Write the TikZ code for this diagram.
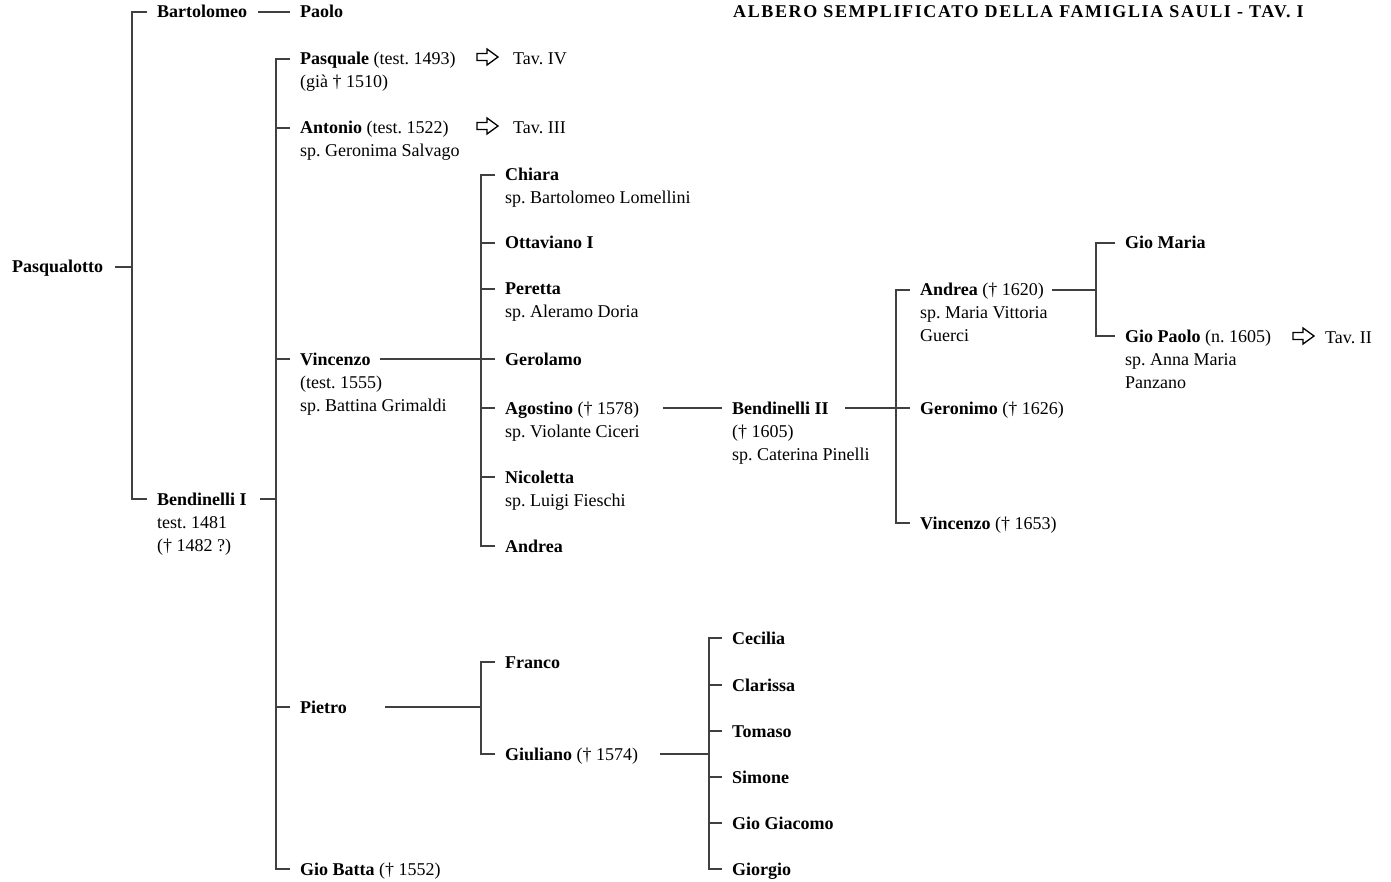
\documentclass[tikz,border=0pt]{standalone}
\usepackage{fontspec}
\setmainfont{Liberation Serif}
\newfontfamily\titlefont[LetterSpace=9]{Liberation Serif}
\usetikzlibrary{calc}
\tikzset{
  pers/.style={anchor=base west, inner sep=0pt, yshift=-6pt, font=\fontsize{18}{23}\selectfont},
  ln/.style={line width=1.3pt, draw=black!75},
  tavarr/.style={line width=1.3pt, draw=black, line join=miter},
}
\newcommand\pers[4]{\node[pers] (#1) at (#2,#3) {\frenchspacing\begin{tabular}[t]{@{}l@{}}#4\end{tabular}};
  \coordinate (#1-l) at (#2-10,#3);}
\newcommand\tavarrow[2]{\coordinate (#1) at #2;
  \draw[tavarr] ($(#1)+(0,-3.5)$) -- ++(10,0) -- ++(0,-4.5) -- ++(11,8) -- ++(-11,8) -- ++(0,-4.5) -- ++(-10,0) -- cycle;}
\begin{document}
\begin{tikzpicture}[x=1pt,y=-1pt]
\useasboundingbox (0,0) rectangle (1391,882);
% title
\node[anchor=base west, inner sep=0pt, font=\titlefont\bfseries\fontsize{18}{20}\selectfont] (title) at (733,18) {ALBERO SEMPLIFICATO DELLA FAMIGLIA SAULI - TAV. I};
% persons
\pers{pasqualotto}{12}{267}{\textbf{Pasqualotto}}
\pers{bartolomeo}{157}{12}{\textbf{Bartolomeo}}
\pers{paolo}{300}{12}{\textbf{Paolo}}
\pers{bend1}{157}{499}{\textbf{Bendinelli I}\\test. 1481\\(† 1482 ?)}
\pers{pasquale}{300}{59}{\textbf{Pasquale} (test. 1493)\\(già † 1510)}
\pers{antonio}{300}{128}{\textbf{Antonio} (test. 1522)\\sp. Geronima Salvago}
\pers{vincenzo}{300}{359}{\textbf{Vincenzo}\\(test. 1555)\\sp. Battina Grimaldi}
\pers{pietro}{300}{707}{\textbf{Pietro}}
\pers{giobatta}{300}{869}{\textbf{Gio Batta} († 1552)}
\pers{chiara}{505}{175}{\textbf{Chiara}\\sp. Bartolomeo Lomellini}
\pers{ottaviano}{505}{243}{\textbf{Ottaviano I}}
\pers{peretta}{505}{289}{\textbf{Peretta}\\sp. Aleramo Doria}
\pers{gerolamo}{505}{359}{\textbf{Gerolamo}}
\pers{agostino}{505}{408}{\textbf{Agostino} († 1578)\\sp. Violante Ciceri}
\pers{nicoletta}{505}{477}{\textbf{Nicoletta}\\sp. Luigi Fieschi}
\pers{andreaA}{505}{546}{\textbf{Andrea}}
\pers{bend2}{732}{408}{\textbf{Bendinelli II}\\(† 1605)\\sp. Caterina Pinelli}
\pers{andreaB}{920}{290}{\textbf{Andrea} († 1620)\\sp. Maria Vittoria\\Guerci}
\pers{geronimo}{920}{408}{\textbf{Geronimo} († 1626)}
\pers{vincenzoB}{920}{523}{\textbf{Vincenzo} († 1653)}
\pers{giomaria}{1125}{243}{\textbf{Gio Maria}}
\pers{giopaolo}{1125}{336}{\textbf{Gio Paolo} (n. 1605)\\sp. Anna Maria\\Panzano}
\pers{franco}{505}{662}{\textbf{Franco}}
\pers{giuliano}{505}{754}{\textbf{Giuliano} († 1574)}
\pers{cecilia}{732}{638}{\textbf{Cecilia}}
\pers{clarissa}{732}{685}{\textbf{Clarissa}}
\pers{tomaso}{732}{731}{\textbf{Tomaso}}
\pers{simone}{732}{777}{\textbf{Simone}}
\pers{giogiacomo}{732}{823}{\textbf{Gio Giacomo}}
\pers{giorgio}{732}{869}{\textbf{Giorgio}}
% references to other tables
\tavarrow{ar1}{(477,57)}
\pers{tav4}{513}{59}{Tav. IV}
\tavarrow{ar2}{(477,126)}
\pers{tav3}{513}{128}{Tav. III}
\tavarrow{ar3}{(1293,336)}
\pers{tav2}{1325}{337}{Tav. II}
% line starts
\coordinate (pasqualotto-r) at (115,267);
\coordinate (bartolomeo-r) at (258,12);
\coordinate (bend1-r) at (260,499);
\coordinate (vincenzo-r) at (380,359);
\coordinate (agostino-r) at (663,408);
\coordinate (bend2-r) at (845,408);
\coordinate (andreaB-r) at (1052,290);
\coordinate (pietro-r) at (385,707);
\coordinate (giuliano-r) at (660,754);
% spines
\coordinate (s1) at (132,267);
\coordinate (s2) at (276,499);
\coordinate (s3) at (481,359);
\coordinate (s4) at (896,408);
\coordinate (s5) at (1096,290);
\coordinate (s6) at (481,707);
\coordinate (s7) at (709,754);
% connectors
\draw[ln] (pasqualotto-r) -- (s1);
\draw[ln] (bartolomeo-l) -| (s1) |- (bend1-l);
\draw[ln] (bartolomeo-r) -- (paolo-l);
\draw[ln] (bend1-r) -- (s2);
\draw[ln] (pasquale-l) -| (s2) |- (giobatta-l);
\foreach \c in {antonio,vincenzo,pietro} \draw[ln] (s2 |- \c-l) -- (\c-l);
\draw[ln] (vincenzo-r) -- (s3);
\draw[ln] (chiara-l) -| (s3) |- (andreaA-l);
\foreach \c in {ottaviano,peretta,gerolamo,agostino,nicoletta} \draw[ln] (s3 |- \c-l) -- (\c-l);
\draw[ln] (agostino-r) -- (bend2-l);
\draw[ln] (bend2-r) -- (s4);
\draw[ln] (andreaB-l) -| (s4) |- (vincenzoB-l);
\draw[ln] (s4 |- geronimo-l) -- (geronimo-l);
\draw[ln] (andreaB-r) -- (s5);
\draw[ln] (giomaria-l) -| (s5) |- (giopaolo-l);
\draw[ln] (pietro-r) -- (s6);
\draw[ln] (franco-l) -| (s6) |- (giuliano-l);
\draw[ln] (giuliano-r) -- (s7);
\draw[ln] (cecilia-l) -| (s7) |- (giorgio-l);
\foreach \c in {clarissa,tomaso,simone,giogiacomo} \draw[ln] (s7 |- \c-l) -- (\c-l);
\end{tikzpicture}
\end{document}
